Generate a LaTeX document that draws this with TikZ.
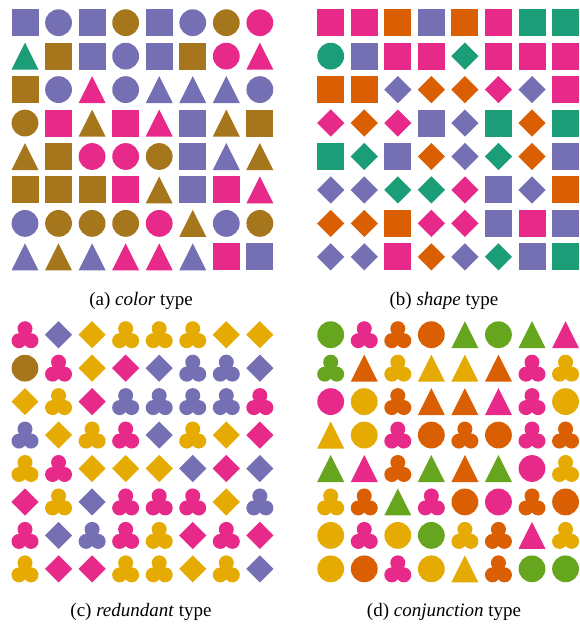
\documentclass[tikz,border=0pt]{standalone}
\usepackage{fontspec}
\setmainfont{Liberation Serif}
\definecolor{cP}{HTML}{7570B3}
\definecolor{cB}{HTML}{A6761D}
\definecolor{cM}{HTML}{E7298A}
\definecolor{cG}{HTML}{1B9E77}
\definecolor{cO}{HTML}{D95F02}
\definecolor{cY}{HTML}{E6AB02}
\definecolor{cL}{HTML}{66A61E}
\newcommand\shpS[1]{\fill[#1] (-13.5,-13.5) rectangle (13.5,13.5);}
\newcommand\shpC[1]{\fill[#1] (0,0) circle[radius=13.4];}
\newcommand\shpT[1]{\fill[#1] (0,-13.5) -- (13.5,13.5) -- (-13.5,13.5) -- cycle;}
\newcommand\shpD[1]{\fill[#1] (0,-13.6) -- (13.6,0) -- (0,13.6) -- (-13.6,0) -- cycle;}
\newcommand\shpK[1]{\fill[#1] (0,-6) circle[radius=7.5] (-6,6) circle[radius=7.5] (6,6) circle[radius=7.5];}
\def\mydrawcell#1#2{\begin{scope}[shift={(\px,\py)}]\csname shp#1\endcsname{c#2}\end{scope}}
\newcommand\mypanel[3]{%
  \foreach \rowlist [count=\j] in {#3} {
    \foreach \cell [count=\i] in \rowlist {
      \pgfmathsetmacro\px{#1+33.55*(\i-1)}
      \pgfmathsetmacro\py{#2+33.45*(\j-1)}
      \expandafter\mydrawcell\cell
    }}}
\tikzset{caption/.style={font=\fontsize{19}{22}\selectfont, inner sep=0pt}}
\begin{document}
\begin{tikzpicture}[x=1pt,y=-1pt]
\useasboundingbox[fill=white] (0,0) rectangle (579,624);
% (a) color type
\mypanel{25}{22.7}{
{SP,CP,SP,CB,SP,CP,CB,CM},
{TG,SB,SP,CP,SP,SB,CM,TM},
{SB,CP,TM,CP,TP,TP,TP,CP},
{CB,SM,TB,SM,TM,SP,TB,SB},
{TB,SB,CM,CM,CB,SP,TP,TB},
{SB,SB,SB,SM,TB,SP,SM,TM},
{CP,CB,CB,CB,CM,TB,CP,CB},
{TP,TB,TP,TM,TM,TP,SM,SP}}
% (b) shape type
\mypanel{330.7}{22.7}{
{SM,SM,SO,SP,SO,SM,SG,SG},
{CG,SP,SM,SM,DG,SM,SM,SM},
{SO,SO,DP,DO,DO,DM,DP,SM},
{DM,DO,DM,SP,DP,SG,DO,SG},
{SG,DG,SP,DO,DP,DG,DO,SP},
{DP,DP,DG,DG,DM,SP,DP,SO},
{DO,DO,SO,DM,DM,SP,SM,SP},
{DP,DP,SM,DO,DP,DG,SP,SG}}
% (c) redundant type
\mypanel{25}{334.7}{
{KM,DP,DY,KY,KY,KY,DY,DY},
{CB,KM,DY,DM,DP,KP,KP,DP},
{DY,KY,DM,KP,KP,KP,KP,KM},
{KP,DY,KY,KM,DP,KY,DY,DM},
{KY,KM,DY,DY,DY,DP,DM,DP},
{DM,KY,DP,KM,KM,KM,DY,KP},
{KM,DP,KP,KM,KY,DM,KM,DM},
{KY,DM,DM,KY,KY,DY,KY,DP}}
% (d) conjunction type
\mypanel{330.7}{334.7}{
{CL,KM,KO,CO,TL,CL,TL,TM},
{KL,TO,KY,TY,TY,TO,KM,KY},
{CM,CY,KO,TO,TO,TM,KM,CY},
{TY,CY,KM,CO,KO,CO,KM,KO},
{TL,TM,KO,TL,TO,TL,CM,KY},
{KY,KO,TL,KM,CO,CM,KO,CO},
{CY,KM,CY,CL,KY,KO,TM,KY},
{CY,CO,KM,CY,TY,KO,CL,CL}}
\node[caption] (capa) at (141,301) {(a) \textit{color} type};
\node[caption] (capb) at (444,301) {(b) \textit{shape} type};
\node[caption] (capc) at (141,612) {(c) \textit{redundant} type};
\node[caption] (capd) at (444,612) {(d) \textit{conjunction} type};
\end{tikzpicture}
\end{document}
